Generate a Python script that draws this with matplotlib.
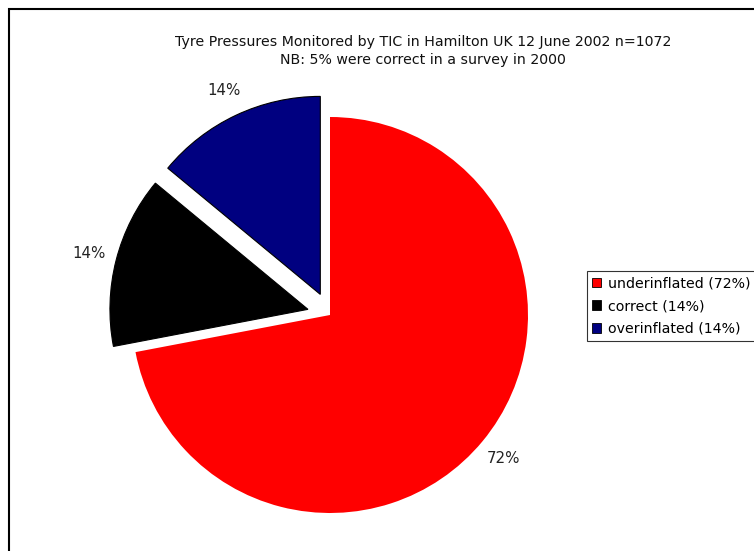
import matplotlib.pyplot as plt
from matplotlib.patches import Rectangle

labels = ['underinflated (72%)', 'correct (14%)', 'overinflated (14%)']
values = [72, 14, 14]
colours = ['#ff0000', '#000000', '#000080']
explode = [0.0, 0.115, 0.115]

title = 'Tyre Pressures Monitored by TIC in Hamilton UK 12 June 2002 n=1072\nNB: 5% were correct in a survey in 2000'

W, H = 754, 551
fig = plt.figure(figsize=(W / 100, H / 100), dpi=100)

# pie centre at (330, 315) px, radius 198 px
r = 198.0
cx, cy = 330.0, 315.0
x0, x1, y0, y1 = -1.6, 1.6, -1.2, 1.4
ax = fig.add_axes([(cx + x0 * r) / W, (H - (cy - y0 * r)) / H,
                   (x1 - x0) * r / W, (y1 - y0) * r / H])

wedges, texts, autotexts = ax.pie(values, colors=colours, explode=explode,
                                  startangle=90, counterclock=False,
                                  autopct='%1.0f%%', pctdistance=1.14,
                                  labeldistance=None,
                                  wedgeprops=dict(linewidth=0.8, edgecolor='black'))
wedges[0].set_linewidth(0)
for t in autotexts:
    t.set_fontsize(10.8)
    t.set_color('#222222')

ax.set_aspect('auto')
ax.set_xlim(x0, x1)
ax.set_ylim(y0, y1)
ax.axis('off')

fig.text(423 / W, 1 - 51 / H, title, ha='center', va='center',
         fontsize=10.2, linespacing=1.3, color='#111111')

leg = fig.legend(wedges, labels, loc='center left',
                 bbox_to_anchor=(587 / W, 1 - 306 / H),
                 frameon=True, fancybox=False, edgecolor='black',
                 fontsize=10.2, handlelength=0.65, handleheight=0.65,
                 handletextpad=0.45, borderpad=0.35, labelspacing=0.62,
                 borderaxespad=0)
leg.get_frame().set_linewidth(0.8)
for h in leg.legend_handles:
    h.set_edgecolor('black')
    h.set_linewidth(0.6)

# outer chart border (right and bottom are off the picture)
fig.patches.append(Rectangle((9 / W, -0.1), 1.2, 1 - 9 / H + 0.1,
                             transform=fig.transFigure, fill=False,
                             edgecolor='black', linewidth=1.5))

fig.savefig('out.png', dpi=100)
